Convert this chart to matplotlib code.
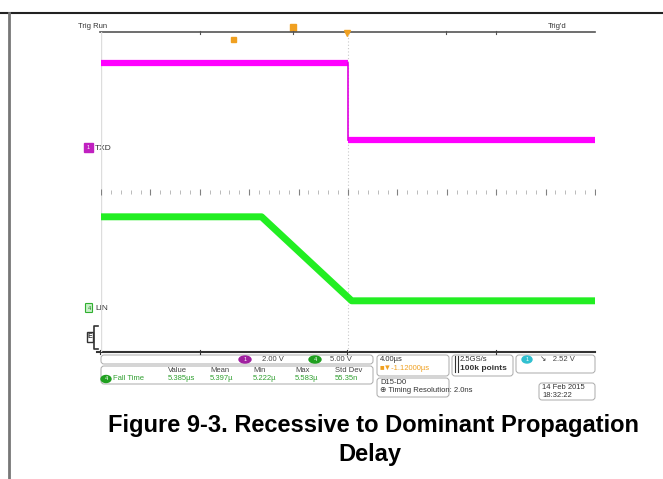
import numpy as np
import matplotlib.pyplot as plt
from matplotlib.patches import FancyBboxPatch, Rectangle, Ellipse

W, H = 663, 479

# scope settings
time_per_div = 4.0          # us/div
ch1_scale = 2.0             # V/div (TXD)
ch4_scale = 5.0             # V/div (LIN)
ch1_offset = 5.1            # div, ground marker position
ch4_offset = 1.1

# traces (time in us, volts)
txd_t = [-20, 0.0, 0.0, 20]
txd_v = [4.25, 4.25, 0.4, 0.4]
lin_t = [-20, -7.0, 0.3, 20]
lin_v = [11.4, 11.4, 0.9, 0.9]

# measurement table
meas_cols = ['Value', 'Mean', 'Min', 'Max', 'Std Dev']
meas_vals = ['5.385\u00b5s', '5.397\u00b5', '5.222\u00b5', '5.583\u00b5', '55.35n']

plt.rcParams['font.family'] = ['Liberation Sans', 'DejaVu Sans']

fig = plt.figure(figsize=(W / 100, H / 100), dpi=100)

# overlay axes in pixel coordinates
ov = fig.add_axes([0, 0, 1, 1])
ov.set_xlim(0, W)
ov.set_ylim(H, 0)
ov.axis('off')

# scope grid area
x0, x1, y0, y1 = 101, 595, 32, 352
ax = fig.add_axes([x0 / W, 1 - y1 / H, (x1 - x0) / W, (y1 - y0) / H])
ax.set_xlim(-5 * time_per_div, 5 * time_per_div)
ax.set_ylim(0, 8)
for s in ax.spines.values():
    s.set_visible(False)
ax.set_xticks([])
ax.set_yticks([])
ax.patch.set_alpha(0)

# grid hints
ax.axvline(-20, color='#dddddd', lw=1)
ax.axvline(0, color='#c8c8c8', lw=0.8, ls=(0, (1, 2)))
ax.plot(np.arange(-20, 20.01, 0.8), [4] * 51, ls='none', marker='|',
        ms=2.5, color='#b0b0b0', mew=0.6)
ax.plot(np.arange(-20, 20.01, 4), [4] * 11, ls='none', marker='|',
        ms=5, color='#808080', mew=0.8)

# waveforms
txd_y = [ch1_offset + v / ch1_scale for v in txd_v]
ax.plot(txd_t[:2], txd_y[:2], color='#ff00ff', lw=4.5, solid_capstyle='butt')
ax.plot(txd_t[2:], txd_y[2:], color='#ff00ff', lw=4.5, solid_capstyle='butt')
ax.plot(txd_t[1:3], txd_y[1:3], color='#e000e0', lw=1.2)
ax.plot(lin_t, [ch4_offset + v / ch4_scale for v in lin_v],
        color='#22ee22', lw=5, solid_joinstyle='round')

# outer frame of the page
ov.plot([0, W], [13, 13], color='#222222', lw=1.5)
ov.plot([9, 9], [13, H], color='#777777', lw=2)

# top ruler
ov.plot([100, 595], [32, 32], color='#555555', lw=1.2)
for xt in [200, 293, 347, 446, 496]:
    ov.plot([xt, xt], [31, 34], color='#555555', lw=0.8)
ov.text(78, 30, 'Trig Run', fontsize=5.5, color='#333333', va='bottom')
ov.text(548, 30, "Trig'd", fontsize=5.5, color='#333333', va='bottom')
ov.add_patch(Rectangle((290, 24), 6, 7, color='#f0a020'))
ov.add_patch(Rectangle((231, 37), 5, 5, color='#f0a020'))
ov.plot([347], [33], marker='v', ms=4, color='#f0a020')

# channel markers
ov.add_patch(Rectangle((84, 143), 9, 9, color='#c020c0'))
ov.text(88.5, 147.5, '1', fontsize=4, color='white', ha='center', va='center')
ov.text(95, 148, 'TXD', fontsize=6, color='#333333', va='center')
ov.add_patch(FancyBboxPatch((86, 304), 6, 8, boxstyle='round,pad=0.5',
                            fc='#c8f0c8', ec='#30b030', lw=0.8))
ov.text(89, 308, '4', fontsize=4, color='#208020', ha='center', va='center')
ov.text(95, 308, 'LIN', fontsize=6, color='#333333', va='center')

# bracket and E box
ov.plot([98, 94, 94, 98], [326, 326, 349, 349], color='#333333', lw=1.2)
ov.add_patch(Rectangle((87, 332), 6, 10, fc='white', ec='#333333', lw=1))
ov.text(90, 337, 'E', fontsize=5, color='#333333', ha='center', va='center',
        weight='bold')

# bottom axis line
ov.plot([97, 595], [352, 352], color='#333333', lw=1.5)
for xt in [100, 200, 347, 496]:
    ov.plot([xt, xt], [350, 354], color='#333333', lw=0.8)

# info panel
def box(x, y, w, h):
    ov.add_patch(FancyBboxPatch((x, y), w, h, boxstyle='round,pad=0,rounding_size=3',
                                fc='none', ec='#aaaaaa', lw=0.7))

box(101, 355, 272, 9)
ov.add_patch(Ellipse((245, 359.5), 12, 7, color='#a020a0'))
ov.text(245, 359.5, '1', fontsize=4, color='white', ha='center', va='center')
ov.text(262, 359.5, '2.00 V', fontsize=5.5, color='#444444', va='center')
ov.add_patch(Ellipse((315, 359.5), 12, 7, color='#20a020'))
ov.text(315, 359.5, '4', fontsize=4, color='white', ha='center', va='center')
ov.text(330, 359.5, '5.00 V', fontsize=5.5, color='#444444', va='center')

box(101, 366, 272, 18)
col_x = [168, 210, 253, 295, 335]
for cx, name, val in zip(col_x, meas_cols, meas_vals):
    ov.text(cx, 371, name, fontsize=5.5, color='#444444', va='center')
    ov.text(cx, 379, val, fontsize=5.5, color='#30a030', va='center')
ov.add_patch(Ellipse((106, 379), 10, 7, color='#20a020'))
ov.text(106, 379, '4', fontsize=4, color='white', ha='center', va='center')
ov.text(113, 379, 'Fall Time', fontsize=5.5, color='#30a030', va='center')

box(377, 355, 72, 21)
ov.text(380, 359.5, '4.00\u00b5s', fontsize=5.5, color='#333333', va='center')
ov.text(380, 368.5, '\u25a0\u25bc-1.12000\u00b5s', fontsize=5.5,
        color='#f0a020', va='center')
box(452, 355, 61, 21)
ov.text(460, 359.5, '2.5GS/s', fontsize=5.5, color='#333333', va='center')
ov.text(460, 368.5, '100k points', fontsize=6, color='#333333', va='center',
        weight='bold')
ov.plot([455, 455], [356, 372], color='#333333', lw=0.8)
ov.plot([458, 458], [356, 372], color='#333333', lw=0.8)
box(516, 355, 79, 18)
ov.add_patch(Ellipse((527, 359.5), 10, 7, color='#30c0d0'))
ov.text(527, 359.5, '1', fontsize=4, color='white', ha='center', va='center')
ov.text(540, 359.5, '\u2198   2.52 V', fontsize=5.5, color='#444444', va='center')

box(377, 378, 72, 19)
ov.text(380, 382, 'D15-D0', fontsize=5.5, color='#333333', va='center')
ov.text(380, 391, '\u2295 Timing Resolution: 2.0ns', fontsize=5.5,
        color='#333333', va='center')
box(539, 383, 56, 17)
ov.text(542, 387.5, '14 Feb 2015', fontsize=5.5, color='#333333', va='center')
ov.text(542, 395.5, '18:32:22', fontsize=5.5, color='#333333', va='center')

# caption
ov.text(373, 432, 'Figure 9-3. Recessive to Dominant Propagation', fontsize=17,
        weight='bold', ha='center', va='baseline', color='#000000')
ov.text(370, 461, 'Delay', fontsize=17, weight='bold', ha='center',
        va='baseline', color='#000000')

fig.savefig('out.png', dpi=100)
